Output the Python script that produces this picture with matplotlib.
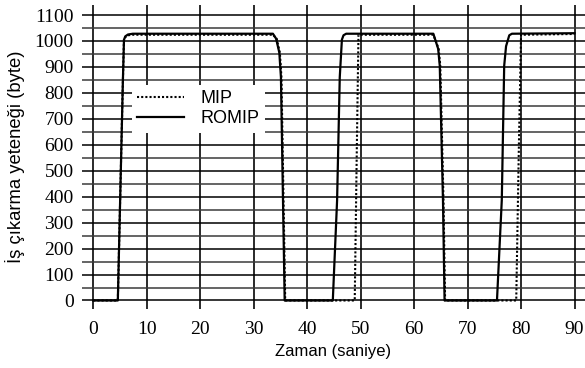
import matplotlib
matplotlib.use("Agg")
import matplotlib.pyplot as plt
import numpy as np

# Veriler
romip_t = [0, 4.6, 5.55, 5.75, 6.0, 6.5, 7.4, 33.6, 34.2, 34.8, 35.1, 35.8,
           44.8, 45.6, 46.1, 46.5, 46.8, 47.3, 63.6, 64.5, 64.8, 65.4, 65.7,
           75.5, 76.4, 76.85, 77.2, 77.8, 78.3, 90]
romip_v = [0, 0, 850, 1005, 1018, 1025, 1028, 1028, 1009, 955, 860, 0,
           0, 385, 860, 1005, 1022, 1028, 1028, 970, 905, 387, 0,
           0, 387, 905, 980, 1022, 1028, 1030]

mip_t = [0, 4.6, 5.55, 5.75, 6.0, 6.5, 7.4, 33.6, 34.3, 34.9, 35.2, 35.9,
         48.9, 49.3, 49.6, 63.6, 64.6, 64.9, 65.5, 65.8,
         79.1, 79.6, 80.0, 90]
mip_v = [0, 0, 850, 1005, 1015, 1022, 1024, 1024, 1009, 955, 860, 0,
         0, 600, 1024, 1024, 970, 905, 387, 0,
         0, 600, 1024, 1027]

x_ticks = list(range(0, 100, 10))
y_ticks = list(range(0, 1200, 100))
y_minor = list(range(50, 1150, 100))

serif = "Liberation Serif"
sans = "Liberation Sans"

fig = plt.figure(figsize=(5.85, 3.68), dpi=100)
ax = fig.add_axes([82 / 585, 1 - 309 / 368, 1 - 82 / 585, 304 / 368])

ax.plot(romip_t, romip_v, color="black", lw=1.6, label="ROMIP", zorder=3)
ax.plot(mip_t, mip_v, color="black", lw=1.5, linestyle=(0, (1, 1)), label="MIP", zorder=4)

ax.set_xlim(-2.1, 91.96)
ax.set_ylim(-32.8, 1138.7)

ax.set_xticks(x_ticks)
ax.set_yticks(y_ticks)
ax.set_yticks(y_minor, minor=True)
ax.tick_params(which="both", length=0)
ax.tick_params(axis="y", pad=6)
ax.tick_params(axis="x", pad=9)
for lab in ax.get_xticklabels() + ax.get_yticklabels():
    lab.set_fontfamily(serif)
    lab.set_fontsize(14)

ax.grid(axis="x", color="#2a2a2a", lw=1.4)
ax.grid(axis="y", which="major", color="black", lw=1.1)
ax.grid(axis="y", which="minor", color="#3a3a3a", lw=1.1)
ax.set_axisbelow(True)
for s in ax.spines.values():
    s.set_visible(False)

ax.set_xlabel("Zaman (saniye)", fontfamily=sans, fontsize=12, labelpad=4)
ax.set_ylabel("İş çıkarma yeteneği (byte)", fontfamily=sans, fontsize=13.3, labelpad=7)

handles, labels = ax.get_legend_handles_labels()
leg = ax.legend(handles[::-1], labels[::-1], loc="upper left",
                bbox_to_anchor=(132 / 585, 1 - 85 / 368), bbox_transform=fig.transFigure,
                prop={"family": sans, "size": 13}, frameon=True, fancybox=False,
                edgecolor="none", facecolor="white", framealpha=1,
                handlelength=2.6, handletextpad=0.9, labelspacing=0.15,
                borderpad=0.3, borderaxespad=0)

fig.savefig("out.png", dpi=100)
